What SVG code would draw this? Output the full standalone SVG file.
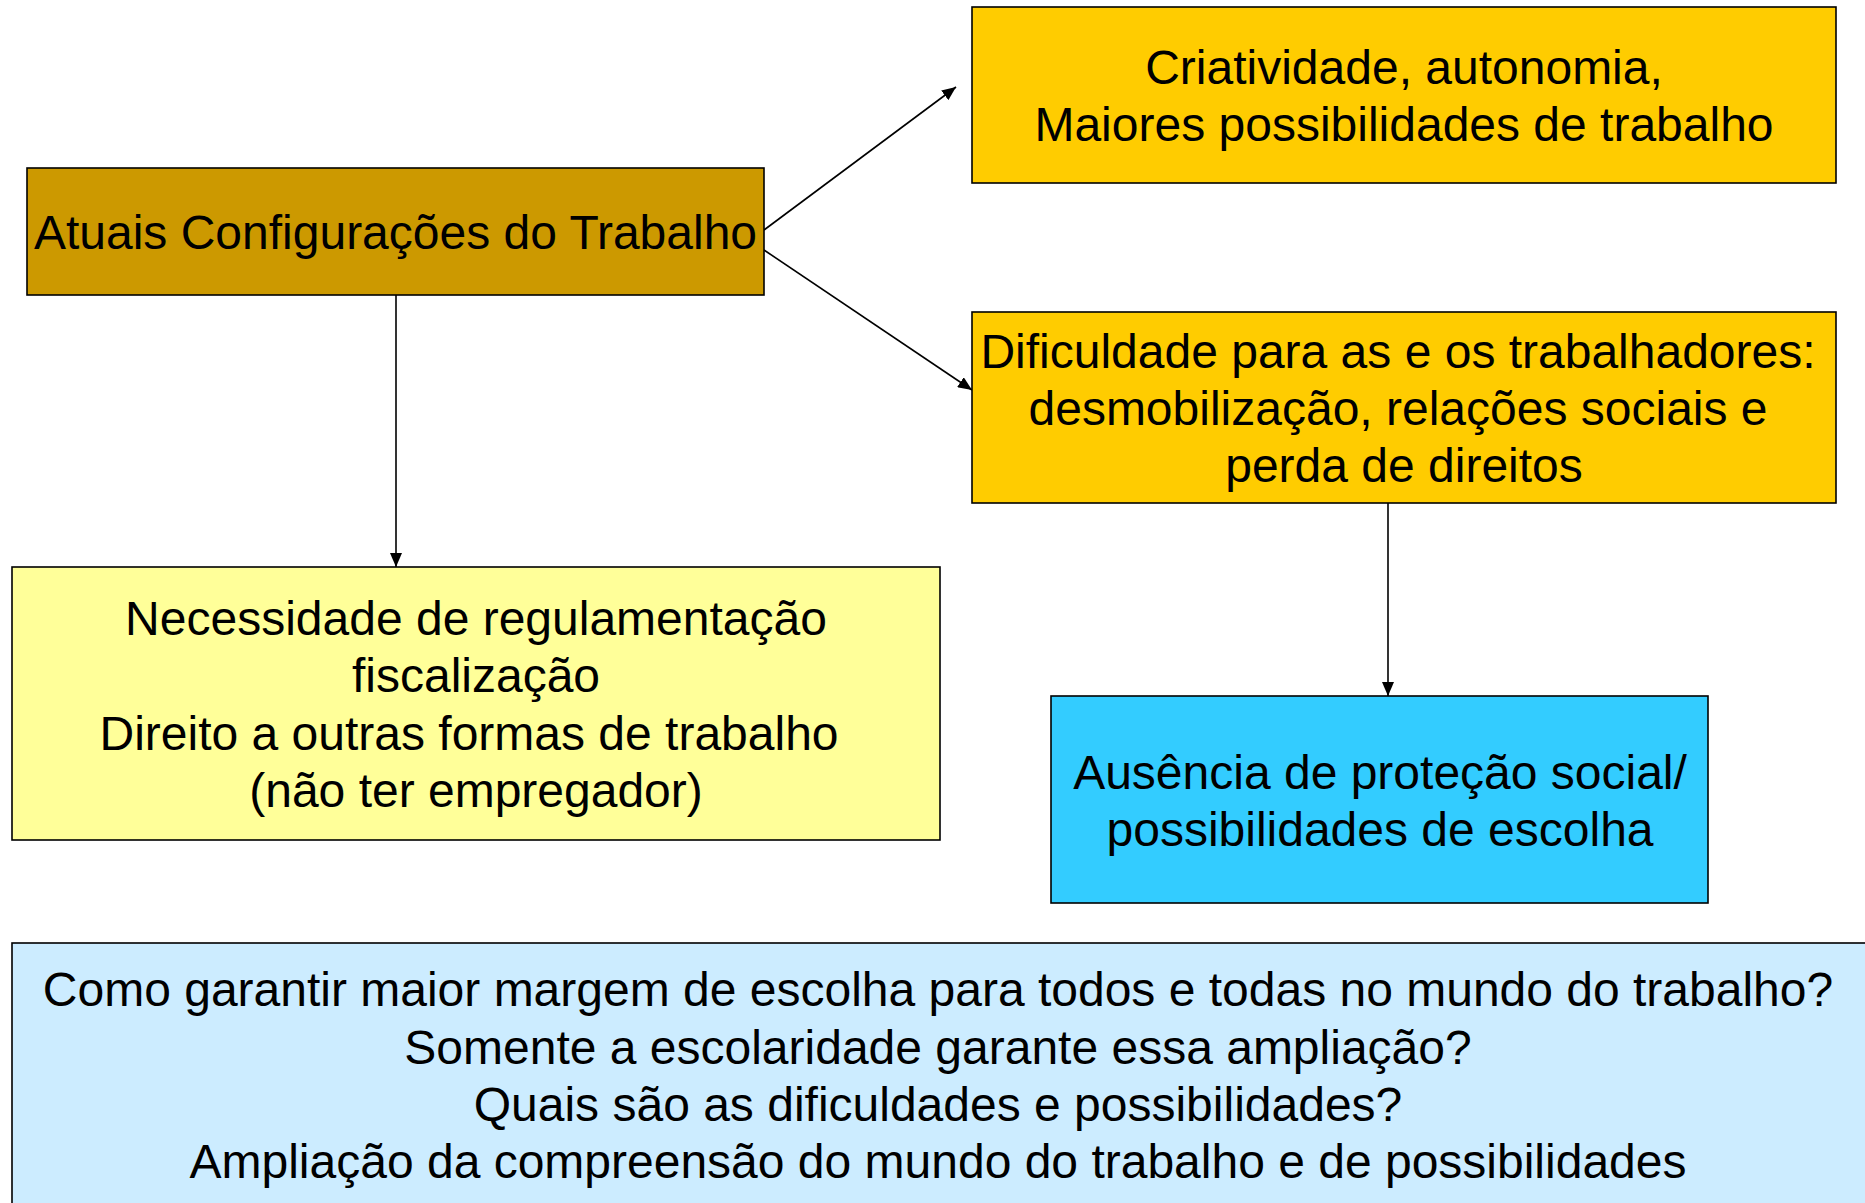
<svg xmlns="http://www.w3.org/2000/svg" width="1865" height="1203" viewBox="0 0 1865 1203">
<style>
.box{stroke:#000;stroke-width:1.6}
.t{font-family:"Liberation Sans",Arial,sans-serif;font-size:48px;fill:#000;text-anchor:middle}
.c{stroke:#000;stroke-width:1.6;fill:none;marker-end:url(#ah)}
</style>
<defs>
<marker id="ah" viewBox="0 0 10 10" refX="10" refY="5" markerWidth="14" markerHeight="12" markerUnits="userSpaceOnUse" orient="auto" preserveAspectRatio="none"><path d="M0,0 L10,5 L0,10 z" fill="#000"/></marker>
</defs>
<rect width="1865" height="1203" fill="#fff"/>
<g id="connectors">
<line class="c" x1="764" y1="230" x2="956" y2="87"/>
<line class="c" x1="764" y1="250" x2="972" y2="390"/>
<line class="c" x1="396" y1="295" x2="396" y2="567"/>
<line class="c" x1="1388" y1="503" x2="1388" y2="696"/>
</g>
<g id="n1">
<rect class="box" x="27" y="168" width="737" height="127" fill="#CC9900"/>
<text class="t" x="395.5" y="249">Atuais Configurações do Trabalho</text>
</g>
<g id="n2">
<rect class="box" x="972" y="7" width="864" height="176" fill="#FFCC00"/>
<text class="t" x="1404" y="84">Criatividade, autonomia,</text>
<text class="t" x="1404" y="141">Maiores possibilidades de trabalho</text>
</g>
<g id="n3">
<rect class="box" x="972" y="312" width="864" height="191" fill="#FFCC00"/>
<text class="t" x="1398" y="368">Dificuldade para as e os trabalhadores:</text>
<text class="t" x="1398" y="425">desmobilização, relações sociais e</text>
<text class="t" x="1404" y="482">perda de direitos</text>
</g>
<g id="n4">
<rect class="box" x="12" y="567" width="928" height="273" fill="#FFFF99"/>
<text class="t" x="476" y="635">Necessidade de regulamentação</text>
<text class="t" x="476" y="692">fiscalização</text>
<text class="t" x="469" y="750">Direito a outras formas de trabalho</text>
<text class="t" x="476" y="807">(não ter empregador)</text>
</g>
<g id="n5">
<rect class="box" x="1051" y="696" width="657" height="207" fill="#33CCFF"/>
<text class="t" x="1380" y="789">Ausência de proteção social/</text>
<text class="t" x="1380" y="846">possibilidades de escolha</text>
</g>
<g id="n6">
<rect class="box" x="12" y="943" width="1870" height="280" fill="#CCECFF"/>
<text class="t" x="938" y="1006">Como garantir maior margem de escolha para todos e todas no mundo do trabalho?</text>
<text class="t" x="938" y="1064">Somente a escolaridade garante essa ampliação?</text>
<text class="t" x="938" y="1121">Quais são as dificuldades e possibilidades?</text>
<text class="t" x="938" y="1178">Ampliação da compreensão do mundo do trabalho e de possibilidades</text>
</g>
</svg>
